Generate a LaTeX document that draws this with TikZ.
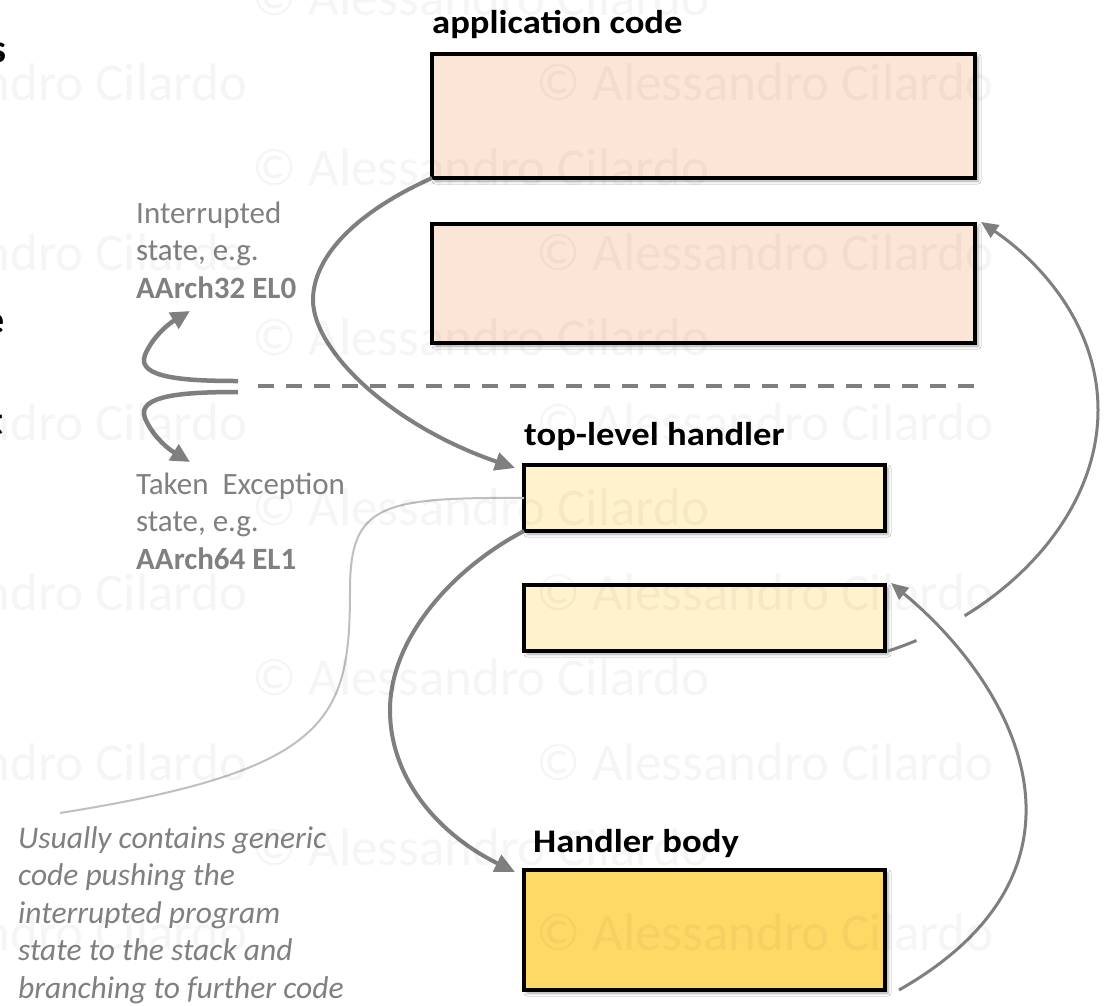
\documentclass[tikz,border=0pt]{standalone}
\usepackage{fontspec}
\setmainfont{Carlito}
\usetikzlibrary{arrows.meta,shadows.blur}

\definecolor{peach}{HTML}{FBE5D6}
\definecolor{cream}{HTML}{FFF2CC}
\definecolor{gold}{HTML}{FFD966}
\definecolor{flowgray}{HTML}{7F7F7F}
\definecolor{textgray}{HTML}{808080}
\definecolor{leadergray}{HTML}{BFBFBF}

% return arc from the handler body back to the top-level handler
\newcommand\handlerreturn[1]{%
  \draw[#1] ([xshift=14pt]hb.south east)
    .. controls (1110,870) and (1020,690) .. ([xshift=6pt,yshift=2pt]tlh2.north east);}
% slightly widened bold caption
\newcommand\widecaption[1]{\scalebox{1.11}[1]{#1}}

\begin{document}
\begin{tikzpicture}[x=1pt,y=-1pt,
  codebox/.style={rectangle, draw=black, line width=4pt, inner sep=0pt, outer sep=0pt,
    blur shadow={shadow xshift=3pt, shadow yshift=-3pt, shadow blur radius=3pt, shadow opacity=35}},
  boxlabel/.style={inner sep=0pt, anchor=base west, font=\fontsize{33}{38}\selectfont\bfseries},
  statetext/.style={inner sep=0pt, anchor=base west, align=left, text=textgray,
    font=\fontsize{31}{37.5}\selectfont},
  notetext/.style={inner sep=0pt, anchor=base west, align=left, text=textgray,
    font=\fontsize{31.5}{37.5}\selectfont\itshape},
  flow/.style={draw=flowgray, line width=4pt, -{Triangle[length=20pt,width=18pt]}},
  flowthin/.style={draw=flowgray, line width=3pt, -{Triangle[length=17pt,width=15pt]}},
  fork/.style={draw=flowgray, line width=4.5pt, -{Triangle[length=19pt,width=18pt]}},
  leader/.style={draw=leadergray, line width=2pt},
  boundary/.style={draw=flowgray, line width=4.5pt, dash pattern=on 16pt off 12pt},
  wmark/.style={inner sep=0pt, anchor=base west, text=black, text opacity=0.04,
    font=\fontsize{53}{60}\selectfont},
  fragment/.style={inner sep=0pt, anchor=base east, font=\fontsize{40}{48}\selectfont\bfseries}
]
\useasboundingbox (0,0) rectangle (1106,1005);
\fill[white] (0,0) rectangle (1106,1005);

% letters of the neighbouring column, cut by the left edge
\node[fragment] (fragA) at (7,62) {s};
\node[fragment] (fragB) at (5,333) {e};
\node[fragment] (fragC) at (4,434) {t};

% code blocks
\node[codebox, fill=peach, minimum width=543pt, minimum height=124pt] (app1) at (703.5,116) {};
\node[codebox, fill=peach, minimum width=543pt, minimum height=119pt] (app2) at (703.5,283.5) {};
\node[codebox, fill=cream, minimum width=361pt, minimum height=66pt] (tlh1) at (704.5,498) {};
\node[codebox, fill=cream, minimum width=361pt, minimum height=66pt] (tlh2) at (704.5,618) {};
\node[codebox, fill=gold, minimum width=361pt, minimum height=120pt] (hb) at (704.5,930) {};

\node[boxlabel] (applbl) at (432,33) {\widecaption{application code}};
\node[boxlabel] (tlhlbl) at (524,445) {\widecaption{top-level handler}};
\node[boxlabel] (hblbl) at (533,852) {\widecaption{Handler body}};

% exception-level boundary
\coordinate (bndL) at (258,386);
\coordinate (bndR) at (985,386);
\draw[boundary] (bndL) -- (bndR);

% state labels (anchored at the baseline of their last line) and the fork
\node[statetext] (intr) at (136,298) {Interrupted\\state, e.g.\\\textbf{AArch32 EL0}};
\node[statetext] (taken) at (136,569) {Taken\ \ Exception\\state, e.g.\\\textbf{AArch64 EL1}};
\coordinate (forkU) at (238,381);
\coordinate (forkD) at (238,392);
\coordinate (tipU) at (190,311);
\coordinate (tipD) at (190,462);
\draw[fork] (forkU) .. controls (185,381) and (136,378) .. (145,355)
  .. controls (151,340) and (165,326) .. (tipU);
\draw[fork] (forkD) .. controls (185,392) and (136,395) .. (145,418)
  .. controls (151,433) and (165,447) .. (tipD);

% note and its leader line
\node[notetext] (note) at (18,998) {Usually contains generic\\code pushing the\\interrupted program\\state to the stack and\\branching to further code};
\coordinate (leadEnd) at (60,813);
\draw[leader] (tlh1.west) .. controls (380,497) and (350,505) .. (350,590)
  .. controls (350,720) and (330,770) .. (leadEnd);

% control flow
\draw[flow] (app1.south west) .. controls (350,215) and (313,260) .. (313,300)
  .. controls (313,350) and (390,425) .. ([xshift=-9pt,yshift=-3pt]tlh1.north west);
\draw[flow] (tlh1.south west) .. controls (450,570) and (390,640) .. (390,710)
  .. controls (390,780) and (440,835) .. ([xshift=-9pt,yshift=-2pt]hb.north west);
\draw[flowthin] ([xshift=3pt]tlh2.south east) .. controls (1000,615) and (1098,520) .. (1098,410)
  .. controls (1098,325) and (1040,262) .. ([xshift=6pt,yshift=2pt]app2.north east);
\begin{scope}
  \clip (941,629) circle (27pt);
  \handlerreturn{white, line width=60pt}
\end{scope}
\handlerreturn{flowthin}

% copyright watermark
\foreach \yy in {15,185,355,525,695,865}
  \node[wmark] (wmB\yy) at (252,\yy) {© Alessandro Cilardo};
\foreach \yy in {100,270,440,610,780,950} {
  \node[wmark] (wmL\yy) at (-210,\yy) {© Alessandro Cilardo};
  \node[wmark] (wmR\yy) at (536,\yy) {© Alessandro Cilardo};
}
\end{tikzpicture}
\end{document}
